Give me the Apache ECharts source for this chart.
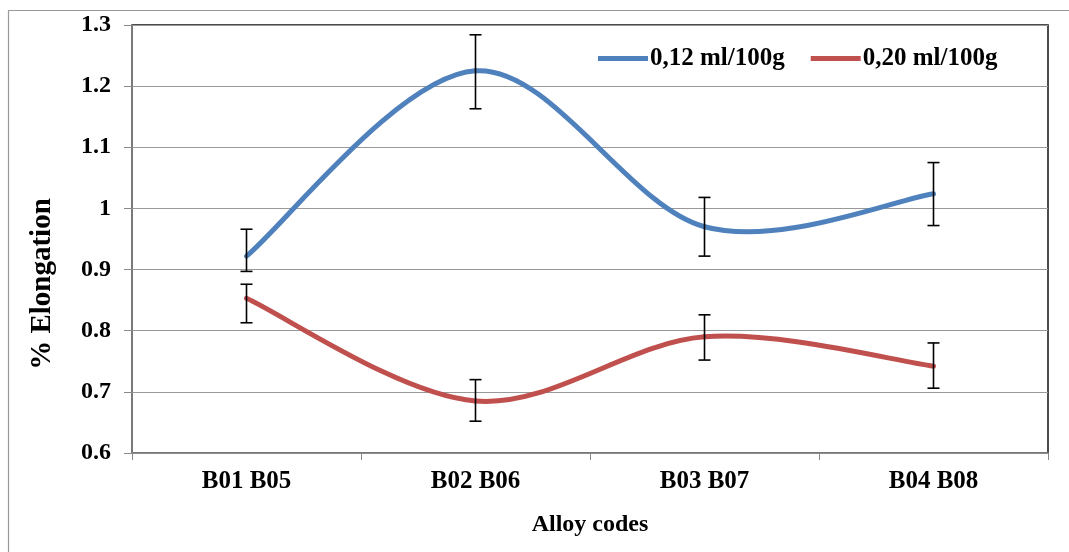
<!DOCTYPE html>
<html>
<head>
<meta charset="utf-8">
<script src="https://cdn.jsdelivr.net/npm/echarts@6/dist/echarts.min.js"></script>
<style>
html,body{margin:0;padding:0;background:#fff;}
#main{width:1069px;height:552px;}
</style>
</head>
<body>
<div id="main"></div>
<script>
var categories = ['B01 B05', 'B02 B06', 'B03 B07', 'B04 B08'];
var seriesNames = ['0,12 ml/100g', '0,20 ml/100g'];
var blueValues = [0.922, 1.225, 0.970, 1.024];
var blueLow = [0.897, 1.163, 0.922, 0.972];
var blueHigh = [0.966, 1.284, 1.018, 1.075];
var redValues = [0.853, 0.685, 0.790, 0.742];
var redLow = [0.813, 0.652, 0.752, 0.706];
var redHigh = [0.876, 0.720, 0.826, 0.780];
var yTicks = [0.6, 0.7, 0.8, 0.9, 1, 1.1, 1.2, 1.3];

var FONT = '"Liberation Serif", "Times New Roman", serif';
var BLUE = '#4F81BD', RED = '#C0504D';

function errData(low, high) {
  return low.map(function (l, i) { return [i, l, high[i]]; });
}
function errRender(params, api) {
  var x = api.value(0);
  var lo = api.coord([x, api.value(1)]);
  var hi = api.coord([x, api.value(2)]);
  var w = 6;
  var st = { stroke: '#000', lineWidth: 1.6 };
  return {
    type: 'group',
    children: [
      { type: 'line', shape: { x1: lo[0], y1: lo[1], x2: hi[0], y2: hi[1] }, style: st },
      { type: 'line', shape: { x1: lo[0] - w, y1: lo[1], x2: lo[0] + w, y2: lo[1] }, style: st },
      { type: 'line', shape: { x1: hi[0] - w, y1: hi[1], x2: hi[0] + w, y2: hi[1] }, style: st }
    ]
  };
}

// Excel-style smoothed line: one cubic Bezier segment per data item,
// control points from neighbouring points (Catmull-Rom, factor 1/6)
function smoothData(values) {
  return values.map(function (v, i) { return [i, v]; });
}
function makeSmoothRender(values, color) {
  return function (params, api) {
    var i = params.dataIndex;
    if (i >= values.length - 1) return null;
    var n = values.length;
    var p = function (k) {
      k = Math.max(0, Math.min(n - 1, k));
      return api.coord([k, values[k]]);
    };
    var p0 = p(i - 1), p1 = p(i), p2 = p(i + 1), p3 = p(i + 2);
    var f = 1 / 6;
    return {
      type: 'bezierCurve',
      shape: {
        x1: p1[0], y1: p1[1],
        cpx1: p1[0] + (p2[0] - p0[0]) * f, cpy1: p1[1] + (p2[1] - p0[1]) * f,
        cpx2: p2[0] - (p3[0] - p1[0]) * f, cpy2: p2[1] - (p3[1] - p1[1]) * f,
        x2: p2[0], y2: p2[1]
      },
      style: { stroke: color, lineWidth: 5, fill: null, lineCap: 'round' }
    };
  };
}

var chart = echarts.init(document.getElementById('main'), null, { renderer: 'canvas' });
chart.setOption({
  backgroundColor: '#fff',
  animation: false,
  graphic: [
    { type: 'rect', shape: { x: 8.5, y: 10.5, width: 1100, height: 600 }, style: { fill: 'none', stroke: '#999', lineWidth: 1.2 }, silent: true },
    { type: 'text', x: 43, y: 284, rotation: Math.PI / 2, style: { text: '% Elongation', font: 'bold 29px ' + FONT, fill: '#000', align: 'center', verticalAlign: 'middle' } }
  ],
  grid: { left: 132, right: 21, top: 25, bottom: 99, show: true, borderColor: '#111', borderWidth: 1.5, backgroundColor: 'transparent' },
  legend: {
    top: 41, left: 593,
    itemWidth: 50, itemHeight: 5, itemGap: 26,
    icon: 'rect',
    textStyle: { fontFamily: FONT, fontWeight: 'bold', fontSize: 25, color: '#000', padding: [0, 0, 0, -3] },
    data: seriesNames
  },
  xAxis: {
    type: 'category',
    data: categories,
    boundaryGap: true,
    name: 'Alloy codes',
    nameLocation: 'middle',
    nameGap: 60,
    nameTextStyle: { fontFamily: FONT, fontWeight: 'bold', fontSize: 24, color: '#000' },
    axisLine: { lineStyle: { color: '#888', width: 1.5 } },
    axisTick: { show: true, length: 7, lineStyle: { color: '#888' } },
    axisLabel: { fontFamily: FONT, fontWeight: 'bold', fontSize: 25, color: '#000', margin: 16 },
    splitLine: { show: false }
  },
  yAxis: {
    type: 'value',
    min: 0.6, max: 1.3, interval: 0.1,
    axisLine: { show: true, lineStyle: { color: '#888', width: 1.5 } },
    axisTick: { show: true, length: 8, lineStyle: { color: '#888' } },
    axisLabel: {
      fontFamily: FONT, fontWeight: 'bold', fontSize: 24, color: '#000', margin: 21,
      formatter: function (v) { return String(Math.round(v * 10) / 10); }
    },
    splitLine: { show: true, lineStyle: { color: '#999', width: 1.2 } }
  },
  series: [
    {
      name: seriesNames[0], type: 'custom', data: smoothData(blueValues),
      renderItem: makeSmoothRender(blueValues, BLUE), itemStyle: { color: BLUE }, z: 3, silent: true
    },
    {
      name: seriesNames[1], type: 'custom', data: smoothData(redValues),
      renderItem: makeSmoothRender(redValues, RED), itemStyle: { color: RED }, z: 3, silent: true
    },
    { type: 'custom', data: errData(blueLow, blueHigh), renderItem: errRender, z: 4, silent: true },
    { type: 'custom', data: errData(redLow, redHigh), renderItem: errRender, z: 4, silent: true }
  ]
});
</script>
</body>
</html>
